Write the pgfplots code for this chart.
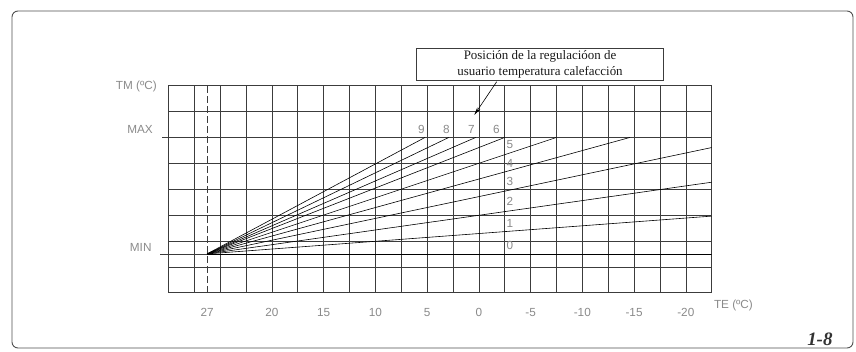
\documentclass[border=0pt]{standalone}
\usepackage{fontspec}
\usepackage{pgfplots}
\pgfplotsset{compat=1.18}
\usetikzlibrary{arrows.meta}
\setmainfont{Liberation Serif}
\newfontfamily\cad{Liberation Sans}
\definecolor{gridc}{HTML}{3C3C3C}
\definecolor{labc}{HTML}{8A8A8A}
\definecolor{framec}{HTML}{505050}
\tikzset{
  curve/.style={black, line width=0.6bp, mark=none},
  lab/.style={font=\cad\fontsize{11.8}{13}\selectfont, text=labc, inner sep=0pt},
}
\begin{document}
\begin{tikzpicture}
\begin{axis}[
  at={(0,0)}, anchor=south west,
  scale only axis, width=543.4bp, height=207bp,
  xmin=-22.5, xmax=30, ymin=0, ymax=8,
  x dir=reverse,
  axis line style={draw=gridc, line width=0.6bp},
  xtick={-22.5,-20,-17.5,-15,-12.5,-10,-7.5,-5,-2.5,0,2.5,5,7.5,10,12.5,15,17.5,20,22.5,25,27.5,30},
  xticklabels={{},{-20},{},{-15},{},{-10},{},{-5},{},0,{},5,{},10,{},15,{},20,{},{},{},{}},
  ytick={0,1,2,3,4,5,6,7,8}, yticklabels={},
  grid=major,
  major grid style={draw=gridc, line width=0.6bp},
  major tick length=0pt,
  tick label style={font=\cad\fontsize{11.8}{13}\selectfont, text=labc},
  xticklabel style={yshift=-12.5bp},
  extra x ticks={26.25}, extra x tick labels={27},
  extra x tick style={grid=major, major grid style={draw=gridc, line width=0.6bp, dash pattern=on 7bp off 3bp}},
  extra y ticks={1.5}, extra y tick labels={},
  extra y tick style={grid=major, major grid style={draw=gridc, line width=0.6bp}},
]
\addplot[curve] coordinates {(26.25,1.5) (-22.5,1.5)};
\addplot[curve] coordinates {(26.25,1.5) (-22.5,2.96)};
\addplot[curve] coordinates {(26.25,1.5) (-22.5,4.27)};
\addplot[curve] coordinates {(26.25,1.5) (-22.5,5.61)};
\addplot[curve] coordinates {(26.25,1.5) (-14.6,6)};
\addplot[curve] coordinates {(26.25,1.5) (-7.5,6)};
\addplot[curve] coordinates {(26.25,1.5) (-2.5,6)};
\addplot[curve] coordinates {(26.25,1.5) (0.3,6)};
\addplot[curve] coordinates {(26.25,1.5) (2.9,6)};
\addplot[curve] coordinates {(26.25,1.5) (5.2,6)};
\node[lab] at (axis cs:5.54,6.29) {9};
\node[lab] at (axis cs:3.13,6.29) {8};
\node[lab] at (axis cs:0.71,6.29) {7};
\node[lab] at (axis cs:-1.7,6.29) {6};
\node[lab] at (axis cs:-3.0,5.71) {5};
\node[lab] at (axis cs:-3.0,5.01) {4};
\node[lab] at (axis cs:-3.0,4.29) {3};
\node[lab] at (axis cs:-3.0,3.52) {2};
\node[lab] at (axis cs:-3.0,2.68) {1};
\node[lab] at (axis cs:-3.0,1.84) {0};
\end{axis}
% axis-side labels
\draw[gridc, line width=0.6bp] (0,155.25bp) -- (-6.5bp,155.25bp);
\draw[gridc, line width=0.6bp] (0,38.81bp) -- (-8.3bp,38.81bp);
\node[lab, anchor=east] at (-15.3bp,163.5bp) {MAX};
\node[lab, anchor=east] at (-16.6bp,44.8bp) {MIN};
\node[lab, anchor=east] at (-11.3bp,206bp) {TM (ºC)};
\node[lab, anchor=west] at (545.5bp,-12.3bp) {TE (ºC)};
% annotation box
\node[draw=gridc, line width=0.6bp, minimum width=246.6bp, minimum height=32.4bp, inner sep=0pt, align=center, font=\fontsize{13}{16.7}\selectfont, text=black!90] at (371.7bp,228.2bp) {Posición de la regulacióon de\\usuario temperatura calefacción};
\draw[-{Stealth[length=8bp,width=3.5bp]}, line width=0.6bp] (328.4bp,211bp) -- (306bp,177.7bp);
\node[anchor=base east, inner sep=0pt, font=\fontsize{19}{22}\selectfont\bfseries\itshape, text=black!80] at (664.4bp,-52.3bp) {1-8};
\draw[framec, line width=0.9bp, rounded corners=6bp] (-156.3bp,-55.3bp) rectangle (684.7bp,281.7bp);
\pgfresetboundingbox
\path (-168.3bp,-59.3bp) rectangle (687.7bp,292.7bp);
\end{tikzpicture}
\end{document}
